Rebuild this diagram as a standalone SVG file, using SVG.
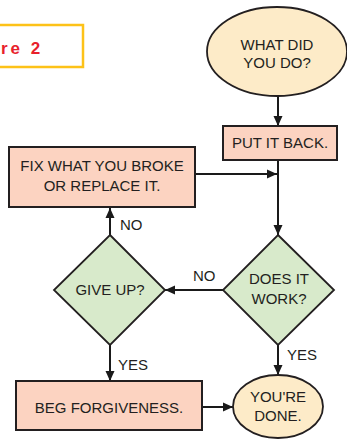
<svg xmlns="http://www.w3.org/2000/svg" width="347" height="441" viewBox="0 0 347 441">
<defs>
<marker id="ah" viewBox="0 0 10 10" refX="10" refY="5" markerWidth="10" markerHeight="10" markerUnits="userSpaceOnUse" orient="auto">
<path d="M0,0.5 L10,5 L0,9.5 z" fill="#1a1a1a"/>
</marker>
<style>
.box{fill:#FCD3C1;stroke:#231F20;stroke-width:2}
.ell{fill:#FDEBC8;stroke:#231F20;stroke-width:1.8}
.dia{fill:#D8EACB;stroke:#231F20;stroke-width:1.8}
.t{font-family:"Liberation Sans",Arial,sans-serif;font-size:15px;fill:#231F20;text-anchor:middle}
.lbl{font-family:"Liberation Sans",Arial,sans-serif;font-size:15px;fill:#231F20}
.c{fill:none;stroke:#1a1a1a;stroke-width:2;marker-end:url(#ah)}
</style>
</defs>
<rect width="347" height="441" fill="#ffffff"/>
<g id="figure-label">
<rect x="-3" y="25" width="86" height="42" fill="#ffffff" stroke="#FDC218" stroke-width="2.5"/>
<text x="1" y="54" font-family="'Liberation Sans',Arial,sans-serif" font-size="17" font-weight="bold" fill="#E8212B" letter-spacing="3">re 2</text>
</g>
<g id="connectors">
<line class="c" x1="278" y1="96" x2="278" y2="126"/>
<line class="c" x1="278" y1="160" x2="278" y2="235"/>
<line class="c" x1="195" y1="174" x2="277" y2="174"/>
<line class="c" x1="223" y1="290" x2="165" y2="290"/>
<line class="c" x1="110" y1="235" x2="110" y2="208"/>
<line class="c" x1="110" y1="345" x2="110" y2="381"/>
<line class="c" x1="278" y1="345" x2="278" y2="375"/>
<line class="c" x1="202" y1="407" x2="233" y2="407"/>
<text class="lbl" x="193" y="281">NO</text>
<text class="lbl" x="120" y="230">NO</text>
<text class="lbl" x="118" y="370">YES</text>
<text class="lbl" x="287" y="360">YES</text>
</g>
<g id="what-did-you-do">
<ellipse class="ell" cx="277" cy="51.5" rx="70" ry="44.5"/>
<text class="t" x="277" y="50">WHAT DID</text>
<text class="t" x="277" y="68">YOU DO?</text>
</g>
<g id="put-it-back">
<rect class="box" x="223" y="126" width="114" height="34"/>
<text class="t" x="280" y="148">PUT IT BACK.</text>
</g>
<g id="fix">
<rect class="box" x="9" y="147" width="186" height="60"/>
<text class="t" x="102" y="171">FIX WHAT YOU BROKE</text>
<text class="t" x="102" y="191">OR REPLACE IT.</text>
</g>
<g id="does-it-work">
<polygon class="dia" points="278,235 334,290 278,345 223,290"/>
<text class="t" x="279" y="284">DOES IT</text>
<text class="t" x="279" y="304">WORK?</text>
</g>
<g id="give-up">
<polygon class="dia" points="110,235 165,290 110,345 54,290"/>
<text class="t" x="110" y="295">GIVE UP?</text>
</g>
<g id="beg">
<rect class="box" x="16" y="381" width="186" height="49"/>
<text class="t" x="109" y="413">BEG FORGIVENESS.</text>
</g>
<g id="done">
<ellipse class="ell" cx="278" cy="406.5" rx="45" ry="31.5"/>
<text class="t" x="278" y="402">YOU'RE</text>
<text class="t" x="278" y="421">DONE.</text>
</g>
</svg>
